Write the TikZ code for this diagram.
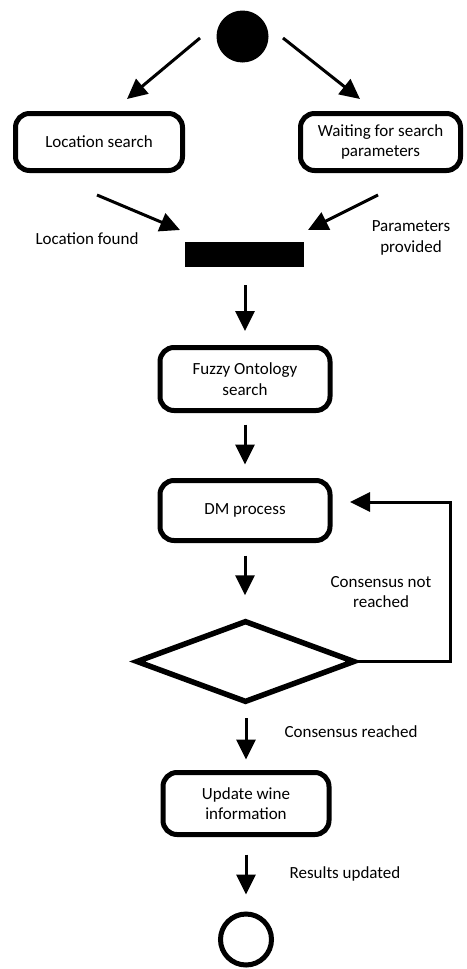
\documentclass[tikz,border=0pt]{standalone}
\usepackage{fontspec}
\setmainfont{Carlito}
\usetikzlibrary{arrows.meta,shapes.geometric,calc}

\tikzset{
  state/.style={draw, line width=5pt, rounded corners=14pt, inner sep=0pt,
    align=center, font=\fontsize{17}{20.5}\selectfont},
  lbl/.style={align=center, inner sep=0pt, font=\fontsize{17}{20.5}\selectfont},
  arr/.style={line width=3pt, -{Triangle[length=20pt,width=19pt]}},
  loopline/.style={line width=3pt, -{Triangle[length=20pt,width=19pt]}},
}

\begin{document}
\begin{tikzpicture}[x=1pt, y=-1pt]
  \useasboundingbox (0,0) rectangle (466,969);

  % initial and final states
  \node[circle, fill=black, minimum size=52pt, inner sep=0pt] (start) at (242.5,36.5) {};
  \node[circle, draw, line width=5pt, minimum size=51pt, inner sep=0pt] (stop) at (246,939.5) {};

  % activity states
  \node[state, minimum width=167pt, minimum height=57pt] (loc) at (99,142) {Location search};
  \node[state, minimum width=160pt, minimum height=57pt] (wait) at (380.5,142) {Waiting for search\\parameters};
  \node[fill=black, minimum width=119pt, minimum height=25pt, inner sep=0pt] (bar) at (244.5,254.5) {};
  \node[state, minimum width=170pt, minimum height=63pt] (fuzzy) at (245,379) {Fuzzy Ontology\\search};
  \node[state, minimum width=170pt, minimum height=60pt] (dm) at (245,510.5) {DM process};
  \node[diamond, draw, line width=5.5pt, minimum width=219pt, minimum height=82pt, inner sep=0pt] (dia) at (245.5,661.5) {};
  \node[state, minimum width=166pt, minimum height=62pt] (upd) at (246,803.5) {Update wine\\information};

  % free ends of the gapped arrows
  \coordinate (s1) at (200,38);  \coordinate (e1) at (127,99);
  \coordinate (s2) at (283,38);  \coordinate (e2) at (360,99);
  \coordinate (s3) at (97,195);  \coordinate (e3) at (180,230);
  \coordinate (s4) at (378,195); \coordinate (e4) at (308,230);
  \coordinate (loopin) at (350,502);
  \coordinate (loopx) at (450,502);

  % fork and join
  \draw[arr] (s1) -- (e1);
  \draw[arr] (s2) -- (e2);
  \draw[arr] (s3) -- (e3);
  \draw[arr] (s4) -- (e4);

  % main flow
  \draw[arr, shorten <=18pt, shorten >=14pt] (bar.south -| fuzzy.north) -- (fuzzy.north);
  \draw[arr, shorten <=11.5pt, shorten >=13.5pt] (fuzzy.south) -- (dm.north);
  \draw[arr, shorten <=12.5pt, shorten >=22.5pt] (dm.south) -- (dm.south |- dia.north);
  \draw[arr, shorten <=13pt, shorten >=10.5pt] (dia.south -| upd.north) -- (upd.north);
  \draw[arr, shorten <=17.5pt, shorten >=17pt] (upd.south) -- (stop.north);

  % feedback loop
  \draw[loopline] (dia.east) -| (loopx) -- (loopin);

  % guard labels
  \node[lbl] (lf) at (87,238.5) {Location found};
  \node[lbl] (pp) at (411,238) {Parameters\\provided};
  \node[lbl] (cnr) at (381,592) {Consensus not\\reached};
  \node[lbl] (cr) at (351,732) {Consensus reached};
  \node[lbl] (ru) at (345,874) {Results updated};
\end{tikzpicture}
\end{document}
